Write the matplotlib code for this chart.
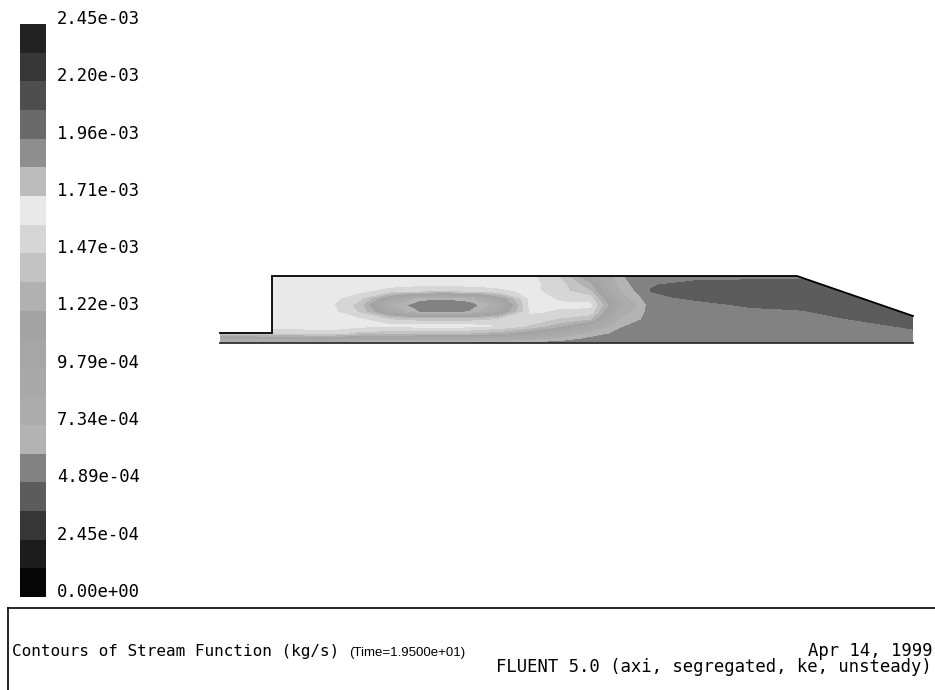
import numpy as np
import matplotlib
matplotlib.use("Agg")
import matplotlib.pyplot as plt
from matplotlib.colors import ListedColormap, BoundaryNorm
from matplotlib.patches import Polygon
from matplotlib.lines import Line2D

# grey bands of the contour legend, lowest value first
band_colors = ["#060606", "#1c1c1c", "#363636", "#5c5c5c", "#828282",
               "#b3b3b3", "#acacac", "#a9a9a9", "#a6a6a6", "#a3a3a3",
               "#b1b1b1", "#c3c3c3", "#d6d6d6", "#e9e9e9", "#bcbcbc",
               "#8e8e8e", "#6a6a6a", "#4e4e4e", "#373737", "#222222"]
psi_min = 0.0
psi_max = 2.4474e-3

# geometry (axial position x, radius r), axis at r = 0
wall_x = [0, 52, 52, 577, 693]
wall_r = [10, 10, 67, 67, 27]

# stream function, units of 1e-3 kg/s
x_cols = [0, 52, 80, 110, 140, 170, 185, 200, 225, 250, 265, 280,
          310, 340, 370, 400, 430, 480, 530, 577, 630, 693]
r_rows = [0, 5, 10, 17, 24, 31, 38, 45, 52, 59, 67]
psi_rows = [
    [0.56, 0.54, 0.54, 0.55, 0.54, 0.54, 0.54, 0.54, 0.53, 0.53, 0.53, 0.53, 0.53, 0.53, 0.53, 0.55, 0.55, 0.55, 0.55, 0.55, 0.55, 0.56],
    [1.05, 1.05, 1.08, 1.10, 1.02, 1.00, 0.99, 0.98, 0.97, 0.95, 0.92, 0.90, 0.82, 0.70, 0.58, 0.55, 0.55, 0.55, 0.55, 0.55, 0.55, 0.54],
    [1.45, 1.50, 1.52, 1.55, 1.42, 1.40, 1.39, 1.38, 1.38, 1.35, 1.31, 1.28, 1.10, 0.95, 0.68, 0.57, 0.55, 0.55, 0.55, 0.55, 0.55, 0.51],
    [1.60, 1.64, 1.64, 1.64, 1.62, 1.62, 1.62, 1.63, 1.63, 1.63, 1.60, 1.58, 1.45, 1.25, 0.95, 0.62, 0.55, 0.55, 0.55, 0.55, 0.53, 0.46],
    [1.60, 1.65, 1.65, 1.65, 1.60, 1.45, 1.42, 1.40, 1.36, 1.40, 1.43, 1.47, 1.55, 1.45, 1.35, 0.72, 0.56, 0.55, 0.55, 0.54, 0.48, 0.43],
    [1.60, 1.65, 1.65, 1.64, 1.45, 0.98, 0.75, 0.60, 0.58, 0.62, 0.80, 1.05, 1.60, 1.58, 1.55, 0.82, 0.56, 0.55, 0.52, 0.50, 0.44, 0.43],
    [1.60, 1.65, 1.65, 1.62, 1.41, 0.72, 0.62, 0.52, 0.50, 0.54, 0.66, 0.85, 1.62, 1.60, 1.62, 0.95, 0.55, 0.52, 0.46, 0.44, 0.42, 0.43],
    [1.60, 1.65, 1.65, 1.64, 1.50, 1.05, 0.85, 0.66, 0.63, 0.68, 0.88, 1.12, 1.62, 1.58, 1.52, 0.80, 0.52, 0.45, 0.42, 0.41, 0.42, 0.43],
    [1.60, 1.64, 1.65, 1.65, 1.62, 1.52, 1.50, 1.47, 1.45, 1.48, 1.52, 1.55, 1.63, 1.52, 1.35, 0.72, 0.48, 0.42, 0.41, 0.41, 0.43, 0.43],
    [1.60, 1.63, 1.65, 1.65, 1.65, 1.65, 1.64, 1.63, 1.63, 1.64, 1.64, 1.65, 1.63, 1.52, 1.25, 0.66, 0.50, 0.43, 0.42, 0.43, 0.43, 0.43],
    [1.60, 1.62, 1.57, 1.62, 1.64, 1.65, 1.65, 1.65, 1.65, 1.65, 1.65, 1.65, 1.62, 1.45, 1.05, 0.62, 0.54, 0.53, 0.53, 0.52, 0.43, 0.43],
]

title_text = "Contours of Stream Function (kg/s)"
time_text = "(Time=1.9500e+01)"
date_text = "Apr 14, 1999"
solver_text = "FLUENT 5.0 (axi, segregated, ke, unsteady)"

W, H = 935, 690
mono = "DejaVu Sans Mono"

psi = np.array(psi_rows) * 1e-3
levels = np.linspace(psi_min, psi_max, len(band_colors) + 1)
cmap = ListedColormap(band_colors)
norm = BoundaryNorm(levels, cmap.N)

fig = plt.figure(figsize=(W / 100, H / 100), dpi=100)
fig.patch.set_facecolor("white")

# main domain, 1 data unit = 1 pixel
pad = 3
ax = fig.add_axes([(220 - pad) / W, (H - 343 - pad) / H,
                   (693 + 2 * pad) / W, (67 + 2 * pad) / H])
ax.set_xlim(-pad, 693 + pad)
ax.set_ylim(-pad, 67 + pad)
ax.axis("off")

cs = ax.contourf(x_cols, r_rows, psi, levels=levels, cmap=cmap, norm=norm,
                 antialiased=False)
domain = Polygon(np.column_stack([[0] + wall_x + [693], [0] + wall_r + [0]]),
                 closed=True, facecolor="none", edgecolor="none")
ax.add_patch(domain)
cs.set_clip_path(domain)

ax.plot(wall_x, wall_r, color="black", lw=1.3, solid_joinstyle="miter")
ax.plot([0, 693], [0, 0], color="#303030", lw=1.3)

# colour legend on the left
cax = fig.add_axes([20 / W, (H - 597) / H, 26 / W, (597 - 24) / H])
cb = fig.colorbar(cs, cax=cax, ticks=levels[::2])
cb.outline.set_visible(False)
cb.ax.minorticks_off()
cb.ax.tick_params(which="both", length=0, pad=7.9)
cb.ax.set_yticklabels([f"{v:.2e}" for v in levels[::2]], family=mono,
                      fontsize=12.4, va="baseline")

# footer box
fig.add_artist(Line2D([8 / W, 1], [1 - 608 / H, 1 - 608 / H],
                      transform=fig.transFigure, color="black", lw=1.2))
fig.add_artist(Line2D([8 / W, 8 / W], [0, 1 - 608 / H],
                      transform=fig.transFigure, color="black", lw=1.2))

fig.text(12 / W, 1 - 656 / H, title_text, family=mono, fontsize=11.5,
         va="baseline", ha="left")
fig.text(349 / W, 1 - 656 / H, time_text,
         family=["Liberation Sans", "DejaVu Sans"], fontsize=9.5,
         va="baseline", ha="left")
fig.text(932 / W, 1 - 642 / H, date_text + "\n" + solver_text, family=mono,
         fontsize=12.4, va="top", ha="right", multialignment="right",
         linespacing=0.88)

fig.savefig("out.png", dpi=100)
